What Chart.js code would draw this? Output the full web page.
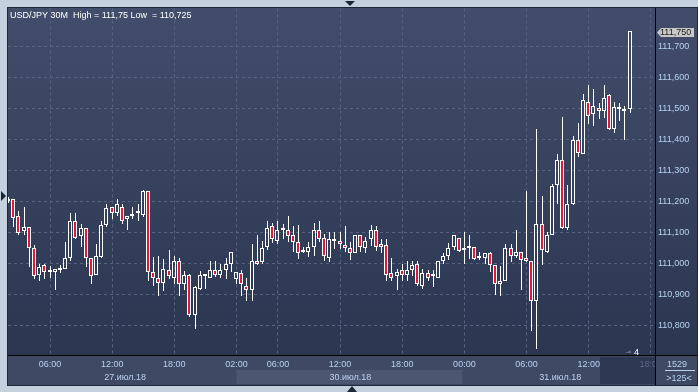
<!DOCTYPE html>
<html><head><meta charset="utf-8">
<style>html,body{margin:0;padding:0;background:#c5d0de;overflow:hidden}canvas{display:block}</style>
<script src="https://cdn.jsdelivr.net/npm/chart.js@4.4.1/dist/chart.umd.min.js"></script>
</head><body>
<canvas id="c" width="698" height="392"></canvas>
<script>
// ---- data (USD/JPY 30M) ----
const opens = [111.200,111.208,111.154,111.104,111.118,111.050,110.963,110.995,110.979,110.972,
110.980,110.982,111.018,111.138,111.087,111.114,111.018,110.963,111.022,111.125,
111.183,111.163,111.183,111.143,111.153,111.162,111.157,111.235,110.973,110.953,
110.937,110.979,110.952,111.006,110.934,110.961,110.834,110.917,110.960,110.952,
110.979,110.963,110.979,110.998,110.949,110.969,110.927,110.914,111.008,111.004,
111.052,111.119,111.071,111.107,111.106,111.090,111.070,111.036,111.036,111.054,
111.108,111.082,111.018,111.079,111.072,111.059,111.050,111.033,111.092,111.050,
111.079,111.106,111.061,111.059,110.969,110.958,110.979,110.963,110.979,110.998,
110.928,110.969,110.958,110.953,111.009,111.025,111.052,111.082,111.043,111.049,
111.052,111.016,111.018,111.034,110.995,110.934,110.944,111.050,111.023,111.038,
111.018,111.009,110.878,111.127,111.035,111.092,111.253,111.333,111.114,111.192,
111.397,111.354,111.521,111.481,111.500,111.492,111.542,111.433,111.498,111.499,
111.497];
const highs = [111.215,111.208,111.170,111.183,111.118,111.059,110.998,110.998,110.990,110.982,
110.996,111.070,111.164,111.162,111.127,111.114,111.018,111.061,111.138,111.190,
111.183,111.208,111.190,111.153,111.181,111.190,111.238,111.235,111.020,111.025,
111.014,111.044,111.025,111.018,110.974,110.966,110.928,110.974,110.966,111.009,
111.006,110.998,111.018,111.038,110.972,110.977,110.953,111.061,111.090,111.073,
111.135,111.130,111.138,111.127,111.154,111.119,111.125,111.052,111.070,111.130,
111.138,111.095,111.100,111.100,111.100,111.119,111.068,111.092,111.092,111.084,
111.125,111.119,111.079,111.079,111.018,110.982,110.998,111.006,111.006,111.006,
110.982,110.979,110.979,111.009,111.033,111.065,111.090,111.082,111.100,111.090,
111.054,111.038,111.034,111.038,110.995,110.990,111.063,111.063,111.106,111.038,
111.235,111.009,111.433,111.218,111.100,111.256,111.352,111.472,111.254,111.411,
111.454,111.547,111.575,111.561,111.518,111.575,111.545,111.521,111.518,111.508,
111.750];
const lows = [111.195,111.116,111.090,111.092,110.987,110.950,110.942,110.949,110.952,110.914,
110.969,110.982,111.007,111.078,111.052,110.987,110.934,110.963,111.016,111.116,
111.143,111.154,111.127,111.106,111.143,111.136,111.151,110.944,110.926,110.894,
110.912,110.950,110.934,110.896,110.914,110.826,110.789,110.914,110.917,110.952,
110.955,110.952,110.950,110.971,110.934,110.896,110.878,110.878,110.996,110.998,
111.043,111.067,111.061,111.077,111.070,111.036,111.013,111.033,111.022,111.025,
111.068,111.007,111.004,111.047,111.047,111.036,111.012,111.033,111.036,111.033,
111.057,111.041,111.033,110.942,110.942,110.914,110.942,110.942,110.958,110.926,
110.918,110.942,110.923,110.953,110.998,111.012,111.043,111.036,110.998,111.014,
111.012,111.012,110.998,110.971,110.898,110.896,110.942,111.004,111.016,110.915,
111.004,110.783,110.725,110.995,111.033,111.090,111.191,111.111,111.106,111.189,
111.342,111.352,111.451,111.443,111.465,111.470,111.431,111.419,111.459,111.397,
111.486];
const closes = [111.208,111.147,111.097,111.118,111.050,110.958,110.987,110.973,110.972,110.982,
110.981,111.018,111.138,111.082,111.114,111.018,110.958,111.024,111.125,111.179,
111.163,111.190,111.138,111.153,111.159,111.163,111.235,110.973,110.953,110.937,
110.982,110.958,111.006,110.934,110.961,110.832,110.925,110.961,110.961,110.979,
110.963,110.979,110.998,111.038,110.972,110.934,110.914,111.008,110.998,111.050,
111.114,111.079,111.106,111.108,111.087,111.068,111.033,111.038,111.054,111.108,
111.079,111.023,111.079,111.071,111.063,111.050,111.034,111.092,111.052,111.073,
111.108,111.054,111.052,110.964,110.953,110.973,110.963,110.979,110.995,110.934,
110.969,110.953,110.959,111.006,111.025,111.050,111.090,111.041,111.044,111.050,
111.014,111.017,111.034,110.995,110.934,110.944,111.050,111.023,111.038,111.012,
111.007,110.878,111.127,111.043,111.090,111.248,111.333,111.114,111.192,111.397,
111.355,111.526,111.476,111.507,111.492,111.535,111.435,111.506,111.499,111.492,
111.750];
const candleIndex = opens.map((_, i) => i);
const timeTickPos = [8, 20, 32, 44, 52, 64, 76, 88, 100, 112, 124];
const timeTickLabels = ['06:00','12:00','18:00','02:00','06:00','12:00','18:00','00:00','06:00','12:00','18:00'];
const dateTickPos = [22.5, 66, 106.5];
const dateTickLabels = ['27.июл.18', '30.июл.18', '31.июл.18'];
const priceTicks = [110.8, 110.9, 111.0, 111.1, 111.2, 111.3, 111.4, 111.5, 111.6, 111.7];
const titleText = 'USD/JPY 30M  High = 111,75 Low  = 110,725';
const barCountText = '1529';
const visibleText = '>125<';
const shiftText = '4';
const X_MIN = -0.11, X_MAX = 124.8, Y_MIN = 110.7043, Y_MAX = 111.8225;

// ---- styling ----
const FONT = 'Liberation Sans, Arial, sans-serif';
const RED = '#e3173a';
const LABEL = '#b8d2f0';
const GRID = '#56627f';

const bodies = candleIndex.map(i => ({x: i, y: [Math.min(opens[i], closes[i]), Math.max(opens[i], closes[i])]}));
const wickUp = candleIndex.map(i => ({x: i, y: [Math.max(opens[i], closes[i]), highs[i]]}));
const wickDn = candleIndex.map(i => ({x: i, y: [lows[i], Math.min(opens[i], closes[i])]}));

// snap bar elements to whole pixels so candles are crisp
const snap = {
  id: 'snap',
  beforeDatasetsDraw(chart) {
    chart.data.datasets.forEach((ds, di) => {
      const half = di === 0 ? 0 : 0.5;
      chart.getDatasetMeta(di).data.forEach(el => {
        el.x = Math.round(el.x - 0.5) + half;
        el.y = Math.round(el.y);
        el.base = Math.round(el.base);
      });
    });
  }
};

const deco = {
  id: 'deco',
  beforeDraw(chart) {
    const ctx = chart.ctx, a = chart.chartArea, xs = chart.scales.x;
    ctx.save();
    ctx.fillStyle = '#c5d0de';
    ctx.fillRect(0, 0, 698, 392);
    const g = ctx.createLinearGradient(0, a.top, 0, a.bottom);
    g.addColorStop(0, '#414d6a');
    g.addColorStop(1, '#2b3651');
    ctx.fillStyle = g;
    ctx.fillRect(8, 8, 689, a.bottom - 8);
    ctx.fillStyle = '#3e4963';
    ctx.fillRect(8, a.bottom, 689, 385 - a.bottom);
    const b0 = xs.getPixelForValue(44), b1 = xs.getPixelForValue(87.6);
    ctx.fillStyle = '#4b5671';
    ctx.fillRect(b0, 370, b1 - b0, 14);
    ctx.fillStyle = '#2d3852';
    ctx.fillRect(600, 357, a.right - 600, 27);
    ctx.fillStyle = '#1c2536';
    ctx.beginPath(); ctx.moveTo(1, 191); ctx.lineTo(6, 196); ctx.lineTo(1, 201); ctx.closePath(); ctx.fill();
    ctx.beginPath(); ctx.moveTo(345, 1); ctx.lineTo(355, 1); ctx.lineTo(350, 6); ctx.closePath(); ctx.fill();
    ctx.beginPath(); ctx.moveTo(347, 392); ctx.lineTo(357, 392); ctx.lineTo(352, 386); ctx.closePath(); ctx.fill();
    ctx.restore();
  },
  afterDraw(chart) {
    const ctx = chart.ctx, a = chart.chartArea, ys = chart.scales.y;
    ctx.save();
    ctx.fillStyle = '#3e4963';
    ctx.fillRect(a.right, a.bottom, 697 - a.right, 385 - a.bottom);
    ctx.strokeStyle = '#000';
    ctx.lineWidth = 1;
    ctx.beginPath();
    ctx.moveTo(a.right + 0.5, 8); ctx.lineTo(a.right + 0.5, 385);
    ctx.moveTo(8, a.bottom + 0.5); ctx.lineTo(697, a.bottom + 0.5);
    ctx.stroke();
    ctx.strokeStyle = '#1e2638';
    ctx.strokeRect(7.5, 7.5, 690, 378);
    ctx.fillStyle = LABEL;
    ctx.font = '9px ' + FONT;
    ctx.textAlign = 'center';
    ctx.textBaseline = 'alphabetic';
    ctx.fillText(barCountText, 677, 367);
    ctx.fillText(visibleText, 679, 381);
    ctx.fillRect(665, 370, 30, 1);
    ctx.fillStyle = '#ffffff';
    ctx.textAlign = 'left';
    ctx.fillText(titleText, 10, 18);
    ctx.fillStyle = '#5a6682';
    ctx.beginPath(); ctx.moveTo(625, 353); ctx.lineTo(631, 353); ctx.lineTo(631, 350); ctx.closePath(); ctx.fill();
    ctx.fillStyle = '#ffffff';
    ctx.fillText(shiftText, 634, 355);
    const last = closes[closes.length - 1];
    const py = Math.round(ys.getPixelForValue(last)) + 1.5;
    ctx.fillStyle = '#c8c8c8';
    ctx.beginPath();
    ctx.moveTo(657, py);
    ctx.lineTo(661, py - 4.5);
    ctx.lineTo(694, py - 4.5);
    ctx.lineTo(694, py + 4.5);
    ctx.lineTo(661, py + 4.5);
    ctx.closePath();
    ctx.fill();
    ctx.fillStyle = '#1a1a1a';
    ctx.textBaseline = 'middle';
    ctx.fillText(last.toFixed(3).replace('.', ','), 660, py + 0.5);
    ctx.restore();
  }
};

new Chart(document.getElementById('c'), {
  type: 'bar',
  data: {
    datasets: [
      {data: bodies, backgroundColor: candleIndex.map(i => closes[i] < opens[i] ? RED : 'rgba(0,0,0,0)'),
       borderColor: '#ffffff', borderWidth: 1, borderSkipped: false, barThickness: 4, minBarLength: 2,
       inflateAmount: 0, grouped: false, order: 0},
      {data: wickUp, backgroundColor: '#ffffff', borderWidth: 0, barThickness: 1, inflateAmount: 0, grouped: false, order: 1},
      {data: wickDn, backgroundColor: '#ffffff', borderWidth: 0, barThickness: 1, inflateAmount: 0, grouped: false, order: 1}
    ]
  },
  options: {
    responsive: false, animation: false, devicePixelRatio: 1,
    layout: {padding: {left: 8, top: 8, right: 1, bottom: 7}},
    plugins: {legend: {display: false}, tooltip: {enabled: false}, title: {display: false}},
    scales: {
      x: {
        type: 'linear', position: 'bottom', min: X_MIN, max: X_MAX, offset: false, weight: 1,
        afterBuildTicks: s => { s.ticks = timeTickPos.map(v => ({value: v})); },
        afterFit: s => { s.height = 15; },
        ticks: {autoSkip: false, maxRotation: 0, padding: 4, font: {family: FONT, size: 9},
          color: c => c.index === timeTickPos.length - 1 ? '#5d6b88' : LABEL,
          callback: (v, i) => timeTickLabels[i]},
        grid: {color: GRID, lineWidth: 1, drawTicks: false, offset: false},
        border: {display: true, color: '#000', width: 1, dash: [3, 3]}
      },
      d: {
        axis: 'x', type: 'linear', position: 'bottom', min: X_MIN, max: X_MAX, offset: false, weight: 2,
        afterBuildTicks: s => { s.ticks = dateTickPos.map(v => ({value: v})); },
        afterFit: s => { s.height = 15; },
        ticks: {autoSkip: false, maxRotation: 0, padding: 2, font: {family: FONT, size: 9}, color: LABEL,
          callback: (v, i) => dateTickLabels[i]},
        grid: {display: false, drawTicks: false},
        border: {display: false}
      },
      y: {
        type: 'linear', position: 'right', min: Y_MIN, max: Y_MAX,
        afterBuildTicks: s => { s.ticks = priceTicks.map(v => ({value: v})); },
        afterFit: s => { s.width = 42; },
        ticks: {padding: 3, font: {family: FONT, size: 9}, color: LABEL,
          callback: v => v.toFixed(3).replace('.', ',')},
        grid: {color: GRID, lineWidth: 1, drawTicks: false},
        border: {display: true, color: '#000', width: 1, dash: [3, 3]}
      }
    }
  },
  plugins: [snap, deco]
});
</script>
</body></html>
